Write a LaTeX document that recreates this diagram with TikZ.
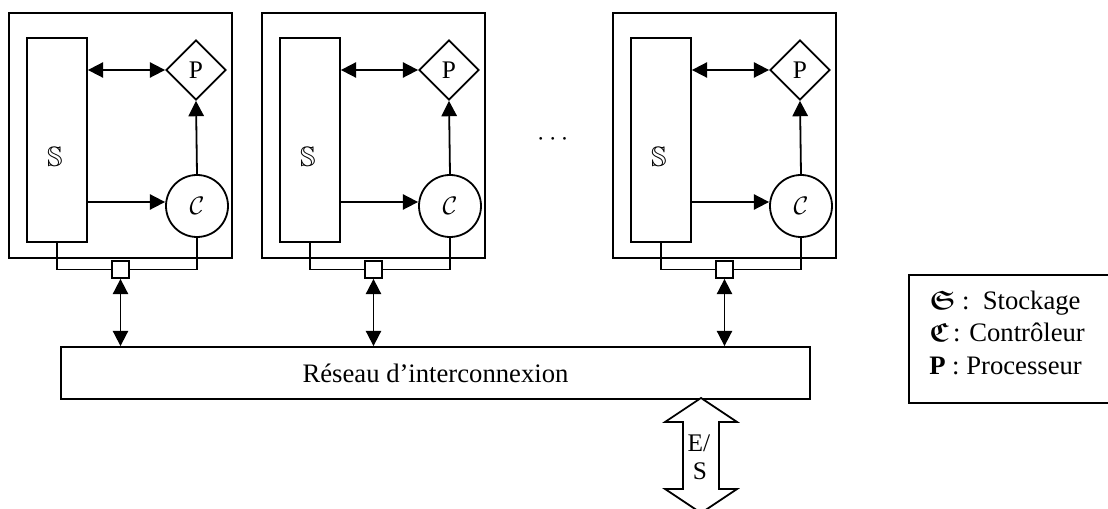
\documentclass[tikz,border=0pt]{standalone}
\usepackage{amsmath,amssymb}
\usepackage{anyfontsize}
\usepackage{fontspec}
\setmainfont{Liberation Serif}
\usetikzlibrary{shapes.geometric,arrows.meta}
\begin{document}
\begin{tikzpicture}[x=0.75pt,y=-0.75pt,
  ln/.style={line width=1.35pt},
  tip/.tip={Triangle[length=11.5pt,width=11.5pt]},
  arr/.style={ln,-tip},
  darr/.style={ln,tip-tip},
  frame/.style={draw,ln,minimum width=167.25pt,minimum height=183.75pt,inner sep=0pt},
  stor/.style={draw,ln,minimum width=45pt,minimum height=153pt,inner sep=0pt},
  proc/.style={draw,ln,diamond,aspect=1,minimum width=45pt,minimum height=45pt,inner sep=0pt,font=\fontsize{19}{22}\selectfont},
  ctrl/.style={draw,ln,circle,minimum size=46.5pt,inner sep=0pt},
  port/.style={draw,ln,minimum size=12.75pt,inner sep=0pt,fill=white},
  txt/.style={font=\fontsize{20}{24}\selectfont,inner sep=0pt}
]
\clip (0,0) rectangle (1108,509);
\fill[white] (0,0) rectangle (1108,509);

% network
\node[draw,ln,minimum width=561.75pt,minimum height=39pt,inner sep=0pt,font=\fontsize{20}{24}\selectfont] (net) at (435.5,373) {Réseau d’interconnexion};

\foreach \i/\dx in {1/0,2/253,3/604}{
  \begin{scope}[shift={(\dx,0)}]
    \node[frame] (F\i) at (120.5,135.5) {};
    \node[stor] (S\i) at (57,140) {};
    \node[inner sep=0pt,font=\fontsize{21}{24}\selectfont] (Sl\i) at (55,157) {$\mathbb{S}$};
    \node[proc] (P\i) at (196,70) {P};
    \node[ctrl,font=\fontsize{19}{22}\selectfont] (C\i) at (197,206) {$\mathcal{C}$};
    \node[port] (Q\i) at (120.5,269.5) {};
  \end{scope}
  \draw[darr] (S\i.east |- P\i.west) -- (P\i.west);
  \draw[arr] ([yshift=3pt]S\i.east |- C\i.west) -- ([yshift=3pt]C\i.west);
  \draw[arr] (C\i.north) -- (P\i.south);
  \draw[ln] (S\i.south) |- (Q\i.west);
  \draw[ln] (C\i.south) |- (Q\i.east);
  \draw[darr] (Q\i.south) -- (Q\i.south |- net.north);
}

% dots
\node[txt,anchor=base] (dots) at (555,146) {$\cdots$};

% E/S double arrow
\draw[ln,fill=white] (701,398) -- (737,422) -- (719,422) -- (719,489) -- (737,489)
  -- (701,513) -- (665,489) -- (683,489) -- (683,422) -- (665,422) -- cycle;
\node[font=\fontsize{19}{22}\selectfont,inner sep=0pt,anchor=base] (es1) at (699,452) {E/};
\node[font=\fontsize{19}{22}\selectfont,inner sep=0pt,anchor=base] (es2) at (700,480) {S};

% legend
\node[draw,ln,minimum width=153pt,minimum height=96pt,inner sep=0pt,anchor=north west] (leg) at (908,274) {};
\node[txt,anchor=base west] (l1) at (929,310) {$\boldsymbol{\mathfrak{S}}$ :\ \ Stockage};
\node[txt,anchor=base west] (l2) at (929,342) {$\boldsymbol{\mathfrak{C}}$\,: Contrôleur};
\node[txt,anchor=base west] (l3) at (929,375) {\textbf{P} : Processeur};
\end{tikzpicture}
\end{document}
